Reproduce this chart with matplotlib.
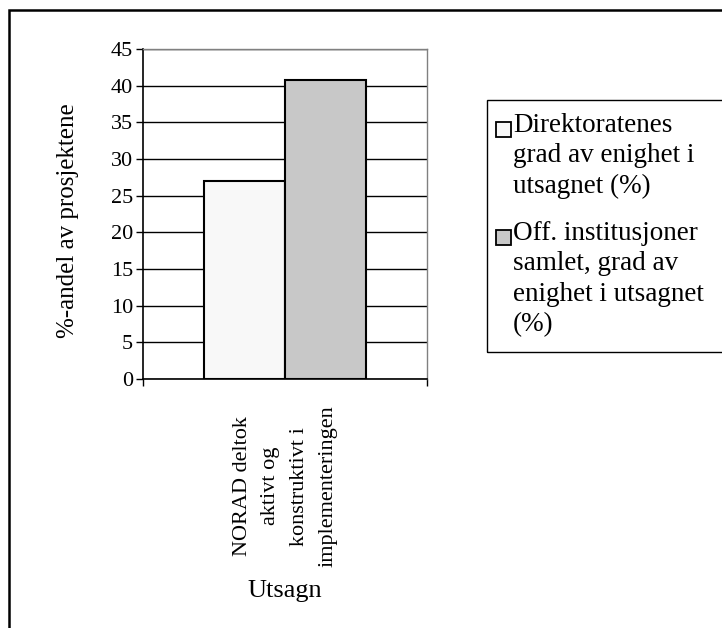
import matplotlib.pyplot as plt
from matplotlib.patches import Rectangle

plt.rcParams['font.family'] = ['Liberation Serif', 'DejaVu Serif']

category = 'NORAD deltok\naktivt og\nkonstruktivt i\nimplementeringen'
series_names = ['Direktoratenes\ngrad av enighet i\nutsagnet (%)',
                'Off. institusjoner\nsamlet, grad av\nenighet i utsagnet\n(%)']
values = [27.0, 40.8]
colors = ['#f8f8f8', '#c8c8c8']
yticks = list(range(0, 50, 5))

W, H = 722, 628


def fx(x):
    return x / W


def fy(y):
    return 1 - y / H


fig = plt.figure(figsize=(W / 100, H / 100), dpi=100)
ax = fig.add_axes([fx(143), fy(379), 284 / W, 330 / H])

bar_w = 0.285
offsets = [-bar_w / 2, bar_w / 2]
for off, v, c, name in zip(offsets, values, colors, series_names):
    ax.bar(off, v, width=bar_w, color=c, edgecolor='black', linewidth=1.5,
           label=name, zorder=3)

ax.set_xlim(-0.5, 0.5)
ax.set_ylim(0, 45)
ax.set_yticks(yticks)
ax.yaxis.grid(True, color='black', linewidth=1.0, zorder=0)
ax.tick_params(axis='y', direction='out', length=5, width=1, labelsize=16, pad=2)

# category label on the major tick, boundary ticks as minor
ax.set_xticks([0])
ax.set_xticklabels([category], rotation=90, fontsize=16, va='top',
                   multialignment='center', linespacing=1.68)
ax.set_xticks([-0.5, 0.5], minor=True)
ax.tick_params(axis='x', which='major', length=0, pad=19)
ax.tick_params(axis='x', which='minor', direction='out', length=5, width=1)

for side in ['top', 'right']:
    ax.spines[side].set_color('#808080')
    ax.spines[side].set_linewidth(1.0)
for side in ['left', 'bottom']:
    ax.spines[side].set_color('black')
    ax.spines[side].set_linewidth(1.2)

ax.set_ylabel('%-andel av prosjektene', fontsize=18)
ax.yaxis.set_label_coords((68 - 143) / 284, 0.48)
ax.yaxis.label.set_va('center')
ax.set_xlabel('Utsagn', fontsize=19)
ax.xaxis.set_label_coords(0.5, (379 - 591) / 330)
ax.xaxis.label.set_va('center')

# legend box, squares sit on the first line of each entry
fig.patches.append(Rectangle((fx(487), fy(352)), 1.0, fy(100) - fy(352),
                             transform=fig.transFigure, fill=False,
                             edgecolor='black', linewidth=1.0))
first_line = [129, 237]
for name, c, yc in zip(series_names, colors, first_line):
    fig.patches.append(Rectangle((fx(496), fy(yc + 8)), 15 / W, 15 / H,
                                 transform=fig.transFigure, facecolor=c,
                                 edgecolor='black', linewidth=1.3))
    fig.text(fx(513), fy(yc - 16), name, fontsize=19.5, va='top', ha='left',
             linespacing=1.28)

# outer chart border
fig.patches.append(Rectangle((fx(9), -0.05), 1.1, fy(10) + 0.05,
                             transform=fig.transFigure, fill=False,
                             edgecolor='black', linewidth=1.8))

fig.savefig('out.png', dpi=100)
